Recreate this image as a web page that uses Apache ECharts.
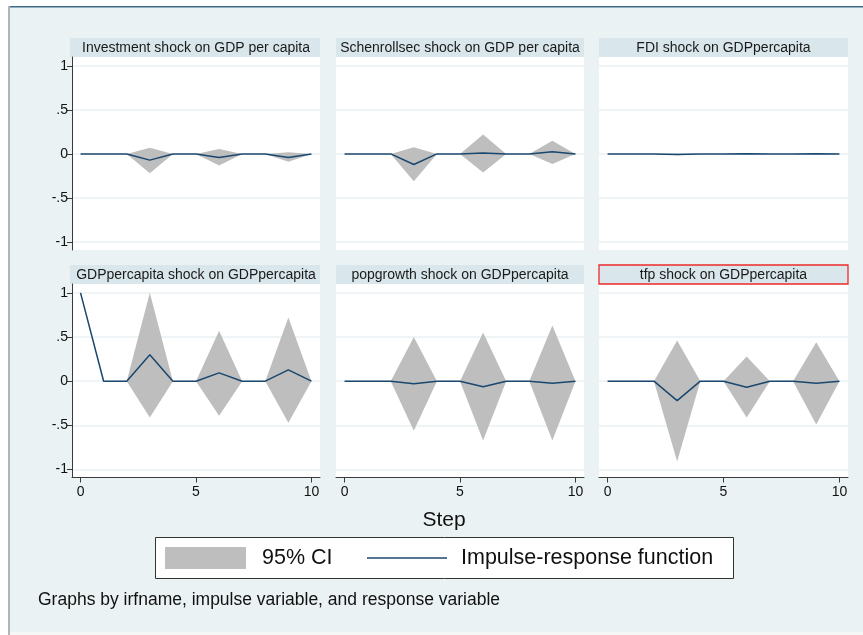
<!DOCTYPE html>
<html>
<head>
<meta charset="utf-8">
<script src="https://cdn.jsdelivr.net/npm/echarts@6.0.0/dist/echarts.min.js"></script>
<style>
  html, body { margin: 0; padding: 0; background: #fff; }
  #chart { width: 863px; height: 635px; }
</style>
</head>
<body>
<div id="chart"></div>
<script>
// steps and axis ticks
const steps = [0, 1, 2, 3, 4, 5, 6, 7, 8, 9, 10];
const xTicks = [0, 5, 10];
const yTicks = [-1, -0.5, 0, 0.5, 1];

const panelTitles = [
  'Investment shock on GDP per capita',
  'Schenrollsec shock on GDP per capita',
  'FDI shock on GDPpercapita',
  'GDPpercapita shock on GDPpercapita',
  'popgrowth shock on GDPpercapita',
  'tfp shock on GDPpercapita',
];

// impulse responses + 95% CI bounds
const invIrf = [0, 0, 0, -0.07, 0, 0, -0.04, 0, 0, -0.04, 0];
const invHi  = [0, 0, 0, 0.07, 0, 0, 0.055, 0, 0, 0.02, 0];
const invLo  = [0, 0, 0, -0.22, 0, 0, -0.13, 0, 0, -0.09, 0];

const schIrf = [0, 0, 0, -0.12, 0, 0, 0.01, 0, 0, 0.025, 0];
const schHi  = [0, 0, 0, 0.075, 0, 0, 0.22, 0, 0, 0.15, 0];
const schLo  = [0, 0, 0, -0.31, 0, 0, -0.21, 0, 0, -0.115, 0];

const fdiIrf = [0, 0, 0, -0.006, 0, 0, 0.003, 0, 0, 0.001, 0];
const fdiHi  = [0, 0, 0, 0.004, 0, 0, 0.008, 0, 0, 0.004, 0];
const fdiLo  = [0, 0, 0, -0.016, 0, 0, -0.004, 0, 0, -0.003, 0];

const gdpIrf = [1, 0, 0, 0.30, 0, 0, 0.094, 0, 0, 0.128, 0];
const gdpHi  = [1, 0, 0, 1.0, 0, 0, 0.57, 0, 0, 0.72, 0];
const gdpLo  = [1, 0, 0, -0.41, 0, 0, -0.39, 0, 0, -0.47, 0];

const popIrf = [0, 0, 0, -0.03, 0, 0, -0.064, 0, 0, -0.023, 0];
const popHi  = [0, 0, 0, 0.50, 0, 0, 0.55, 0, 0, 0.63, 0];
const popLo  = [0, 0, 0, -0.56, 0, 0, -0.67, 0, 0, -0.67, 0];

const tfpIrf = [0, 0, 0, -0.22, 0, 0, -0.068, 0, 0, -0.023, 0];
const tfpHi  = [0, 0, 0, 0.46, 0, 0, 0.28, 0, 0, 0.44, 0];
const tfpLo  = [0, 0, 0, -0.91, 0, 0, -0.41, 0, 0, -0.49, 0];

const panels = [
  { irf: invIrf, hi: invHi, lo: invLo },
  { irf: schIrf, hi: schHi, lo: schLo },
  { irf: fdiIrf, hi: fdiHi, lo: fdiLo },
  { irf: gdpIrf, hi: gdpHi, lo: gdpLo },
  { irf: popIrf, hi: popHi, lo: popLo },
  { irf: tfpIrf, hi: tfpHi, lo: tfpLo },
];

const BG = '#EAF2F3';
const BAND = '#D9E6EB';
const CI = '#BEBEBE';
const NAVY = '#1A476F';
const AXIS = '#3a3a3a';
const FONT = '"Liberation Sans", Arial, sans-serif';

const cols = [[72, 320], [336, 584], [599, 848]];
const rows = [[57, 250], [284, 477.5]];
const titleTops = [38, 265];

const chart = echarts.init(document.getElementById('chart'));

const grid = [], xAxis = [], yAxis = [], series = [], graphic = [];

// frame bits of the screenshot
graphic.push(
  { type: 'rect', shape: { x: 0, y: 0, width: 8, height: 635 }, style: { fill: '#fff' }, silent: true },
  { type: 'rect', shape: { x: 0, y: 0, width: 863, height: 6 }, style: { fill: '#fff' }, silent: true },
  { type: 'rect', shape: { x: 8, y: 6, width: 2, height: 629 }, style: { fill: '#B4B4B4' }, silent: true },
  { type: 'rect', shape: { x: 10, y: 6, width: 853, height: 1.5 }, style: { fill: '#3F6A88' }, silent: true },
  { type: 'rect', shape: { x: 10, y: 632, width: 853, height: 3 }, style: { fill: '#F5F7F7' }, silent: true }
);

panels.forEach((p, i) => {
  const r = Math.floor(i / 3), c = i % 3;
  const [L, R] = cols[c];
  const [T, B] = rows[r];
  const bottomRow = r === 1, leftCol = c === 0;

  grid.push({ left: L, top: T, width: R - L, height: B - T, show: true, backgroundColor: '#fff', borderWidth: 0 });

  xAxis.push({
    gridIndex: i, type: 'value', min: -0.37, max: 10.37,
    axisLine: { show: bottomRow, onZero: false, lineStyle: { color: AXIS, width: 1 } },
    axisTick: { show: bottomRow, customValues: xTicks, length: 5, lineStyle: { color: AXIS } },
    axisLabel: { show: bottomRow, customValues: xTicks, fontSize: 14, fontFamily: FONT, color: '#111', margin: 8 },
    splitLine: { show: false },
  });

  yAxis.push({
    gridIndex: i, type: 'value', min: -1.09, max: 1.1,
    axisLine: { show: leftCol, onZero: false, lineStyle: { color: AXIS, width: 1 } },
    axisTick: { show: leftCol, customValues: yTicks, length: 5, lineStyle: { color: AXIS } },
    axisLabel: {
      show: leftCol, customValues: yTicks, fontSize: 14, fontFamily: FONT, color: '#111', margin: 4,
      formatter: v => String(v).replace('0.', '.'),
    },
    splitLine: { show: true, lineStyle: { color: BG, width: 1.5 } },
  });

  // 95% CI band as one polygon through the axis scales
  series.push({
    type: 'custom', xAxisIndex: i, yAxisIndex: i, name: '95% CI',
    data: steps.map((s, k) => [s, p.lo[k], p.hi[k]]),
    encode: { x: 0, y: [1, 2] },
    renderItem: (params, api) => {
      if (params.dataIndex !== 0) return null;
      const pts = [];
      steps.forEach((s, k) => pts.push(api.coord([s, p.hi[k]])));
      for (let k = steps.length - 1; k >= 0; k--) pts.push(api.coord([steps[k], p.lo[k]]));
      return { type: 'polygon', shape: { points: pts }, style: { fill: CI } };
    },
    z: 2, silent: true,
  });

  series.push({
    type: 'line', xAxisIndex: i, yAxisIndex: i, name: 'Impulse-response function',
    data: steps.map((s, k) => [s, p.irf[k]]),
    symbol: 'none', lineStyle: { color: NAVY, width: 1.5 }, z: 3, silent: true,
  });

  // panel title band (the last one carries a red outline in the source)
  const tt = titleTops[r];
  const boxed = i === 5;
  graphic.push({
    type: 'rect',
    shape: { x: L - (leftCol ? 2 : 0), y: tt, width: R - L + (leftCol ? 2 : 0), height: 19 },
    style: boxed ? { fill: BAND, stroke: '#EE2A2A', lineWidth: 1.3 } : { fill: BAND },
    silent: true,
  });
  graphic.push({
    type: 'text', x: (L + R) / 2, y: tt + 10,
    style: { text: panelTitles[i], font: '14px ' + FONT, fill: '#1a1a1a', textAlign: 'center', textVerticalAlign: 'middle' },
    silent: true,
  });
});

// Step title, legend, note
graphic.push(
  { type: 'text', x: 444, y: 520, style: { text: 'Step', font: '21px ' + FONT, fill: '#111', textAlign: 'center', textVerticalAlign: 'middle' }, silent: true },
  { type: 'rect', shape: { x: 155.5, y: 537.5, width: 578, height: 41 }, style: { fill: '#fff', stroke: '#333', lineWidth: 1 }, silent: true },
  { type: 'rect', shape: { x: 165, y: 547, width: 81, height: 22 }, style: { fill: CI }, silent: true },
  { type: 'text', x: 262, y: 558, style: { text: '95% CI', font: '21.5px ' + FONT, fill: '#111', textVerticalAlign: 'middle' }, silent: true },
  { type: 'line', shape: { x1: 367, y1: 558, x2: 447, y2: 558 }, style: { stroke: NAVY, lineWidth: 1.5 }, silent: true },
  { type: 'text', x: 461, y: 558, style: { text: 'Impulse-response function', font: '21.5px ' + FONT, fill: '#111', textVerticalAlign: 'middle' }, silent: true },
  { type: 'text', x: 38, y: 600, style: { text: 'Graphs by irfname, impulse variable, and response variable', font: '17.5px ' + FONT, fill: '#111', textVerticalAlign: 'middle' }, silent: true }
);

chart.setOption({
  backgroundColor: BG,
  animation: false,
  grid, xAxis, yAxis, series, graphic,
});
</script>
</body>
</html>
